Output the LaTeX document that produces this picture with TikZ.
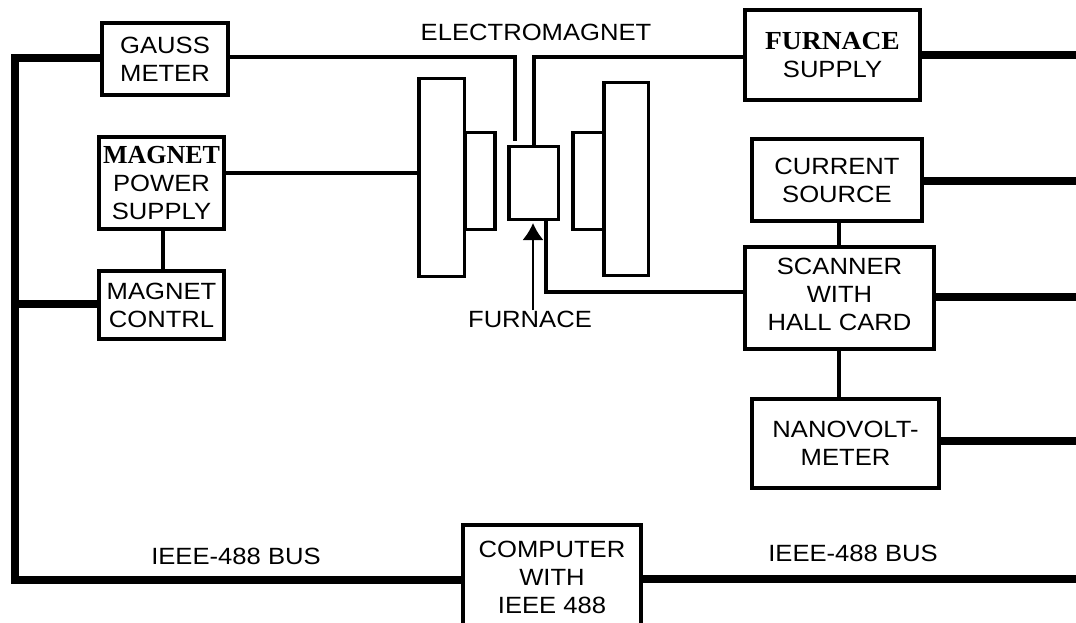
\documentclass[tikz,border=0pt]{standalone}
\usepackage{fontspec}
\setmainfont[FakeStretch=1.09]{Liberation Sans}
\newfontfamily\slabfont{Liberation Serif}
\newfontfamily\slabwide[FakeStretch=1.06]{Liberation Serif}
\usetikzlibrary{positioning,arrows.meta}
\begin{document}
\begin{tikzpicture}[x=1pt,y=-1pt,font=\fontsize{23.5}{28}\selectfont,
  box/.style={draw=black, line width=4pt, align=center, fill=white, inner sep=0pt},
  part/.style={draw=black, line width=3.5pt, fill=white, inner sep=0pt},
  lbl/.style={inner sep=0pt, align=center},
  bus/.style={draw=black, line width=7.5pt},
  wire/.style={draw=black, line width=3.5pt},
  thinwire/.style={draw=black, line width=2pt},
]
\useasboundingbox (0,0) rectangle (1076,623);
\coordinate (busleft) at (15,304);
\coordinate (rightA) at (1076,55);
\coordinate (rightB) at (1076,181);
\coordinate (rightC) at (1076,297);
\coordinate (rightD) at (1076,441);
\coordinate (rightE) at (1076,579);
\node[box, minimum width=126, minimum height=72] (gauss) at (165,59) {GAUSS\\METER};
\node[box, minimum width=125, minimum height=92] (supply) at (161.5,183) {{\fontsize{26}{28}\selectfont\slabfont\bfseries MAGNET}\\POWER\\SUPPLY};
\node[box, minimum width=125, minimum height=68] (contrl) at (161.5,305) {MAGNET\\CONTRL};
\node[box, minimum width=175, minimum height=90] (furnsup) at (832.5,55) {{\fontsize{26}{28}\selectfont\slabwide\bfseries FURNACE}\\SUPPLY};
\node[box, minimum width=170, minimum height=82] (current) at (837,180) {CURRENT\\SOURCE};
\node[box, minimum width=189, minimum height=102, text depth=8pt] (scanner) at (839.5,298) {SCANNER\\WITH\\HALL CARD};
\node[box, minimum width=187, minimum height=89] (nano) at (845.5,443.5) {NANOVOLT-\\METER};
\node[box, minimum width=178, minimum height=104] (computer) at (552,577) {COMPUTER\\WITH\\IEEE 488};
% electromagnet
\node[part, minimum width=45.5, minimum height=197.5] (poleL) at (441.5,177.5) {};
\node[part, minimum width=30, minimum height=97] (tipL) at (480,181) {};
\node[part, minimum width=49.5, minimum height=72.5] (furnace) at (533.5,183) {};
\node[part, minimum width=31, minimum height=97] (tipR) at (588.5,181) {};
\node[part, minimum width=44.5, minimum height=192.5] (poleR) at (626,179) {};
% labels
\node[lbl] (emlabel) at (536,32) {ELECTROMAGNET};
\node[lbl] (furnlabel) at (530,319) {FURNACE};
\node[lbl] (busA) at (236,556) {IEEE-488 BUS};
\node[lbl] (busB) at (853,553) {IEEE-488 BUS};
% bus
\draw[bus] (gauss.west |- 0,58) -- (15,58) -- (15,580) -- (computer.west |- 0,580);
\draw[bus] (busleft) -- (contrl.west |- busleft);
\draw[bus] (furnsup.east |- rightA) -- (rightA);
\draw[bus] (current.east |- rightB) -- (rightB);
\draw[bus] (scanner.east |- rightC) -- (rightC);
\draw[bus] (nano.east |- rightD) -- (rightD);
\draw[bus] (computer.east |- rightE) -- (rightE);
% wires
\draw[wire] (gauss.east |- 0,57) -- (515,57) -- (515,141);
\draw[wire] (furnsup.west |- 0,57) -- (534,57) -- (534,145);
\draw[wire] (supply.east |- 0,173) -- (poleL.west |- 0,173);
\draw[wire] (supply.south -| 163,0) -- (contrl.north -| 163,0);
\draw[wire] (current.south -| 839,0) -- (scanner.north -| 839,0);
\draw[wire] (scanner.south -| 839,0) -- (nano.north -| 839,0);
\draw[wire] (scanner.west |- 0,292) -- (546,292) -- (546,221);
\draw[thinwire, -{Latex[length=17pt,width=21pt]}] (furnlabel.north -| 533,0) -- (533,223);
\end{tikzpicture}
\end{document}
